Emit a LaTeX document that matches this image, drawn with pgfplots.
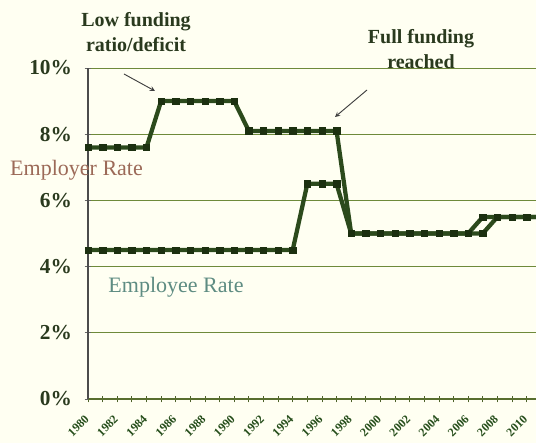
\documentclass[border=0pt]{standalone}
\usepackage{pgfplots}
\pgfplotsset{compat=1.18}
\usepackage{fontspec}
\setmainfont{Liberation Serif}
\definecolor{bg}{HTML}{FFFFF2}
\definecolor{ln}{HTML}{2C4A1C}
\definecolor{mk}{HTML}{1C3010}
\definecolor{gridc}{HTML}{6E8A3A}
\definecolor{lbl}{HTML}{2A3A1E}
\definecolor{erate}{HTML}{9C6A58}
\definecolor{eerate}{HTML}{5E8C82}
\pgfplotstableread{
year employer employee
1980 7.6 4.5
1981 7.6 4.5
1982 7.6 4.5
1983 7.6 4.5
1984 7.6 4.5
1985 9.0 4.5
1986 9.0 4.5
1987 9.0 4.5
1988 9.0 4.5
1989 9.0 4.5
1990 9.0 4.5
1991 8.1 4.5
1992 8.1 4.5
1993 8.1 4.5
1994 8.1 4.5
1995 8.1 6.5
1996 8.1 6.5
1997 8.1 6.5
1998 5.0 5.0
1999 5.0 5.0
2000 5.0 5.0
2001 5.0 5.0
2002 5.0 5.0
2003 5.0 5.0
2004 5.0 5.0
2005 5.0 5.0
2006 5.0 5.0
2007 5.5 5.0
2008 5.5 5.5
2009 5.5 5.5
2010 5.5 5.5
2011 5.5 5.5
}\ratedata
\begin{document}
\begin{tikzpicture}
\path[use as bounding box, fill=bg] (-66pt,-33pt) rectangle (336pt,299.25pt);
\begin{axis}[
  at={(0,0)}, anchor=south west,
  scale only axis, width=336pt, height=248.25pt,
  xmin=1980, xmax=2010.64, ymin=0, ymax=10,
  clip mode=individual,
  axis x line=bottom, axis y line=left,
  axis line style={line width=0.8pt},
  x axis line style={color=gridc!80!black, -},
  y axis line style={color=black!70, -},
  xtick={1980,1982,...,2010},
  minor xtick={1981,1983,...,2011},
  ytick={0,2,4,6,8,10},
  yticklabels={0\%,2\%,4\%,6\%,8\%,10\%},
  ymajorgrids, grid style={gridc, line width=0.7pt},
  tick style={color=gridc!70!black, line width=0.6pt},
  xtick align=center, major tick length=5pt, minor tick length=5pt,
  ytick style={color=black!60},
  /pgf/number format/assume math mode=true,
  yticklabel style={font=\fontsize{16}{16}\selectfont\bfseries, text=lbl, xshift=-6pt},
  xticklabel style={font=\fontsize{9}{10}\selectfont\bfseries, text=lbl!90!green, rotate=45, anchor=north east, inner sep=0.5pt, xshift=-8pt, yshift=-3.6pt},
  /pgf/number format/1000 sep={},
  axis background/.style={fill=bg},
]
\addplot[color=ln, line width=3.2pt, mark=square*, mark size=2.4pt, mark options={fill=mk, draw=mk, line width=0.3pt}] table[x=year, y=employer] {\ratedata};
\addplot[color=ln, line width=3.2pt, mark=square*, mark size=2.4pt, mark options={fill=mk, draw=mk, line width=0.3pt}] table[x=year, y=employee] {\ratedata};
\end{axis}
\node[font=\fontsize{15}{18.75}\selectfont\bfseries, text=lbl, align=center] at (36pt,274.9pt) {Low funding\\ratio/deficit};
\node[font=\fontsize{15}{18.75}\selectfont\bfseries, text=lbl, align=center] at (249.75pt,262.5pt) {Full funding\\reached};
\node[font=\fontsize{16.5}{16}\selectfont, text=erate] at (-8.6pt,171.75pt) {Employer Rate};
\node[font=\fontsize{16.5}{16}\selectfont, text=eerate] at (66pt,84pt) {Employee Rate};
\draw[-stealth, black!75, line width=0.7pt] (27pt,243.75pt) -- (50.25pt,231pt);
\draw[-stealth, black!75, line width=0.7pt] (209.25pt,231.75pt) -- (185.25pt,211.5pt);
\end{tikzpicture}
\end{document}
